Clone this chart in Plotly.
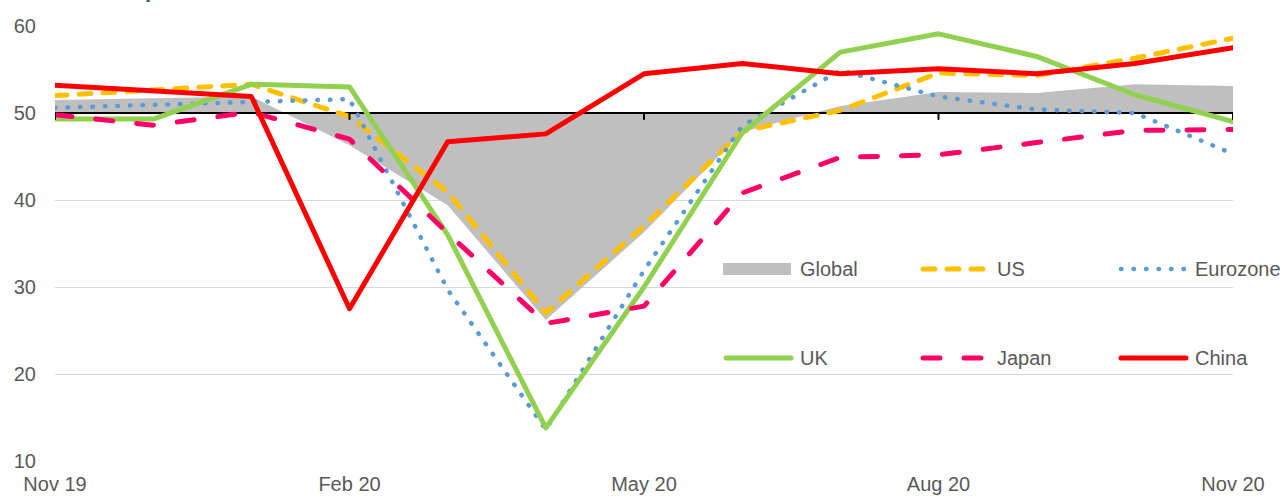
import plotly.graph_objects as go

# Composite PMI readings, Nov 2019 – Nov 2020 (monthly)
MONTHS = ["Nov 19", "Dec 19", "Jan 20", "Feb 20", "Mar 20", "Apr 20", "May 20",
          "Jun 20", "Jul 20", "Aug 20", "Sep 20", "Oct 20", "Nov 20"]
GLOBAL = [51.5, 51.7, 51.9, 46.3, 39.4, 26.2, 36.3, 47.8, 50.8, 52.4, 52.3, 53.3, 53.1]
US = [52.0, 52.7, 53.3, 49.6, 40.9, 27.0, 37.0, 47.9, 50.3, 54.6, 54.3, 56.3, 58.6]
EUROZONE = [50.6, 50.9, 51.3, 51.6, 29.7, 13.6, 31.9, 48.5, 54.9, 51.9, 50.4, 50.0, 45.3]
UK = [49.3, 49.3, 53.3, 53.0, 36.0, 13.8, 30.0, 47.7, 57.0, 59.1, 56.5, 52.1, 49.0]
JAPAN = [49.8, 48.6, 50.1, 47.0, 36.2, 25.8, 27.8, 40.8, 44.9, 45.2, 46.6, 48.0, 48.1]
CHINA = [53.2, 52.6, 51.9, 27.5, 46.7, 47.6, 54.5, 55.7, 54.5, 55.1, 54.5, 55.7, 57.5]

NEUTRAL = 50  # expansion / contraction threshold
TICK_IDX = [0, 3, 6, 9, 12]
Y_TICKS = [10, 20, 30, 40, 50, 60]

W, H = 1288, 496
ML, MR, MT, MB = 55, 55, 26, 35
PW, PH = W - ML - MR, H - MT - MB

FONT = "Liberation Sans, Arial, sans-serif"
TXT = "#595959"

x = list(range(len(MONTHS)))

STYLE = {
    "US": dict(color="#FFC000", width=5, dash="12px,12px"),
    "Eurozone": dict(color="#5B9BD5", width=4.5, dash="0.5px,12px"),
    "UK": dict(color="#92D050", width=5, dash="solid"),
    "Japan": dict(color="#FF0066", width=5, dash="17px,24px"),
    "China": dict(color="#FF0000", width=5, dash="solid"),
}
SERIES = [("US", US), ("Eurozone", EUROZONE), ("UK", UK), ("Japan", JAPAN), ("China", CHINA)]

fig = go.Figure()

# threshold line; the global series is shaded against it
fig.add_trace(go.Scatter(x=x, y=[NEUTRAL] * len(x), mode="lines",
                         line=dict(color="black", width=2), hoverinfo="skip",
                         showlegend=False))
fig.add_trace(go.Scatter(x=x, y=GLOBAL, mode="lines", name="Global",
                         line=dict(width=0, color="#BFBFBF"), fill="tonexty",
                         fillcolor="#BFBFBF", showlegend=False))
for name, vals in SERIES:
    fig.add_trace(go.Scatter(x=x, y=vals, mode="lines", name=name,
                             line=STYLE[name], showlegend=False))


def px_x(p):
    return (p - ML) / PW


def px_y(p):
    return (H - MB - p) / PH


shapes = []
annotations = []

# tick marks hanging from the threshold line
for i in TICK_IDX:
    shapes.append(dict(type="line", xref="x", yref="y", ysizemode="pixel",
                       yanchor=NEUTRAL, x0=i, x1=i, y0=0, y1=-6,
                       line=dict(color="black", width=2), layer="above"))

# legend, two rows of three entries
LEG_COLS = [723, 920, 1118]
LEG_ROWS = [269, 358]
LEG_ITEMS = [["Global", "US", "Eurozone"], ["UK", "Japan", "China"]]
SW_LEN = 68
for r, row in enumerate(LEG_ITEMS):
    yc = LEG_ROWS[r]
    for c, name in enumerate(row):
        x0 = LEG_COLS[c]
        if name == "Global":
            shapes.append(dict(type="rect", xref="paper", yref="paper",
                               x0=px_x(x0), x1=px_x(x0 + SW_LEN),
                               y0=px_y(yc + 6), y1=px_y(yc - 6),
                               fillcolor="#BFBFBF", line=dict(width=0)))
        else:
            st = STYLE[name]
            shapes.append(dict(type="line", xref="paper", yref="paper",
                               x0=px_x(x0 + 3), x1=px_x(x0 + SW_LEN),
                               y0=px_y(yc), y1=px_y(yc),
                               line=dict(color=st["color"], width=st["width"],
                                         dash=st["dash"])))
        annotations.append(dict(text=name, xref="paper", yref="paper",
                                x=px_x(x0 + 75), y=px_y(yc), xanchor="left",
                                yanchor="middle", showarrow=False,
                                font=dict(family=FONT, size=20, color=TXT)))

# chart title
annotations.append(dict(text="<b>Chart 1: Composite PMIs</b>", xref="paper", yref="paper",
                        x=px_x(5), y=px_y(4.5), xanchor="left", yanchor="bottom",
                        showarrow=False,
                        font=dict(family=FONT, size=22, color="#44546A")))

fig.update_layout(
    width=W, height=H,
    margin=dict(l=ML, r=MR, t=MT, b=MB, pad=0, autoexpand=False),
    paper_bgcolor="white", plot_bgcolor="white",
    font=dict(family=FONT, size=20, color=TXT),
    showlegend=False,
    shapes=shapes,
    annotations=annotations,
    xaxis=dict(range=[0, len(MONTHS) - 1], tickmode="array", tickvals=TICK_IDX,
               ticktext=[MONTHS[i] for i in TICK_IDX], showgrid=False,
               zeroline=False, showline=False, ticks="", ticklabelstandoff=9,
               automargin=False,
               tickfont=dict(family=FONT, size=20, color=TXT), fixedrange=True),
    yaxis=dict(range=[10, 60], tickmode="array", tickvals=Y_TICKS,
               showgrid=True, gridcolor="#D9D9D9", gridwidth=1.3,
               zeroline=False, showline=False, ticks="", ticklabelstandoff=18,
               automargin=False,
               tickfont=dict(family=FONT, size=20, color=TXT), fixedrange=True),
)

ROUND_CAPS = """
var s = document.createElement('style');
s.textContent = '.scatterlayer .js-line, .shapelayer path { stroke-linecap: round; stroke-linejoin: round; }';
document.head.appendChild(s);
"""

fig.write_html("out.html", post_script=ROUND_CAPS)
